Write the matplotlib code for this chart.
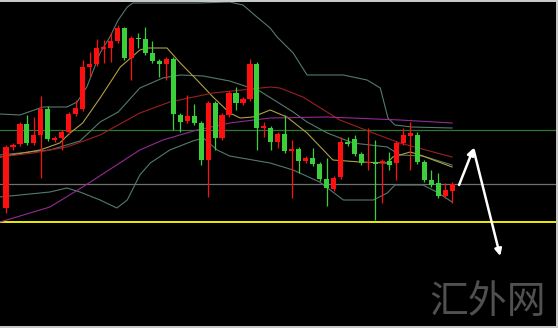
import matplotlib
matplotlib.use("Agg")
import matplotlib.pyplot as plt
import numpy as np

# ---- candle data (arbitrary price units) ----
opens  = [120,181,184,204,185,193,219,188,190,196,214,219,261,264,279,280,287,300,270,290,
          289,275,267,264,269,213,207,212,205,168,225,190,213,235,225,229,264,200,200,186,
          194,177,179,167,170,164,149,139,151,186,189,174,165,166,165,167,165,185,192,193,
          166,148,145,132,137]
closes = [181,183,204,185,193,219,189,190,196,214,220,261,264,280,281,287,300,270,290,289,
          275,267,264,269,214,206,212,205,168,225,190,213,235,225,229,264,200,202,186,194,
          177,179,167,170,164,149,140,150,186,184,174,165,166,164,167,163,185,193,195,166,
          148,143,132,138,144]
highs  = [183,185,206,213,211,232,222,192,198,216,228,268,276,289,288,295,303,301,292,295,
          301,287,269,271,271,215,233,224,207,227,227,215,237,241,231,269,266,206,202,196,
          213,188,181,172,180,166,170,152,191,191,193,176,200,188,169,176,187,200,206,196,
          168,158,155,145,146]
lows   = [115,178,182,183,183,150,187,186,178,194,212,217,251,262,265,266,285,268,248,280,
          273,265,251,248,198,196,205,203,163,131,178,188,211,218,223,227,178,191,178,180,
          175,130,155,165,162,147,122,137,149,182,172,163,158,108,125,158,148,183,158,164,
          146,141,130,130,125]

# ---- indicator lines: (bar position, value) ----
upper_x = [-0.86,2.0,5.3,8.75,10.2,11.6,13.5,14.9,16.1,17.4,18.2,27.4,32.1,34.0,36.0,37.9,38.9,41.2,43.2,48.4,51.8,53.7,54.8,55.8,58.2,64.0]
upper_y = [214,213,221,221,226,241,275,291,308,321,325,325,326,323,311,300,291,275,253,253,248,240,210,203,201,200]
mid_x = [-0.86,6.3,10.6,13.5,16.1,19.2,22.5,25.0,28.3,32.1,36.4,41.2,43.2,46.1,49.8,54.7,56.5,59.8,64.0]
mid_y = [173,178,187,206,216,240,250,253,252,247,237,216,206,195,185,181,173,172,163]
lower_x = [-0.86,2.0,6.3,8.75,10.6,13.5,15.9,17.4,19.2,20.7,23.5,26.8,28.3,30.3,32.1,37.9,41.2,45.0,48.4,52.7,54.7,55.8,59.8,61.8,64.0]
lower_y = [131,133,136,140,136,128,120,128,153,165,178,187,190,178,172,165,158,146,128,128,135,143,143,136,126]
ma_fast_x = [-0.86,4.9,7.7,9.2,11.0,13.5,16.4,19.2,20.2,23.1,25.0,27.4,29.7,32.1,33.6,35.4,37.9,40.3,43.2,46.9,50.8,54.7,55.5,58.0,59.4,64.0]
ma_fast_y = [171,178,185,195,205,230,261,278,280,280,265,248,231,215,210,211,218,211,195,168,166,165,171,176,173,161]
ma_mid_x = [-0.86,3.9,8.75,13.5,19.2,23.5,29.7,37.9,39.3,42.6,47.9,52.7,56.5,64.0]
ma_mid_y = [171,175,181,193,215,226,235,241,240,231,208,195,185,171]
ma_slow_x = [-0.86,6.3,11.0,19.2,22.5,27.4,32.1,37.9,46.1,56.5,64.0]
ma_slow_y = [106,121,141,178,188,198,205,210,211,208,205]

# horizontal levels
level_green = 198
level_grey = 144
level_yellow = 106

watermark = "汇外网"

# ---- figure ----
W, H = 558, 328
fig = plt.figure(figsize=(W/100, H/100), dpi=100, facecolor="#c8c8c8")
ax = fig.add_axes([0, 2/H, 556/W, 324/H])
ax.set_facecolor("black")
step = 6.97
ax.set_xlim(-6/step, (556-6)/step)
ax.set_ylim(2, 326)
ax.set_xticks([]); ax.set_yticks([])
for s in ax.spines.values():
    s.set_visible(False)

# horizontal lines
ax.axhline(level_green, color="#2a7a2a", lw=0.9, zorder=1)
ax.axhline(level_grey, color="#707070", lw=0.9, zorder=1)
ax.axhline(level_yellow, color="#ffff00", lw=1.3, zorder=1)

# indicator lines
band_c = "#557a6c"
ax.plot(upper_x, upper_y, color=band_c, lw=0.8, zorder=2)
ax.plot(mid_x, mid_y, color=band_c, lw=0.8, zorder=2)
ax.plot(lower_x, lower_y, color=band_c, lw=0.8, zorder=2)
ax.plot(ma_fast_x, ma_fast_y, color="#b0a040", lw=0.8, zorder=2)
ax.plot(ma_mid_x, ma_mid_y, color="#9c2020", lw=0.8, zorder=2)
ax.plot(ma_slow_x, ma_slow_y, color="#952a95", lw=0.8, zorder=2)

# candles
o = np.array(opens, float); c = np.array(closes, float)
h = np.array(highs, float); l = np.array(lows, float)
x = np.arange(len(o))
up = c >= o
cols = np.where(up, "#ff1010", "#3ccf3c")
ax.vlines(x, l, h, colors=cols, lw=0.9, zorder=3)
bottom = np.minimum(o, c)
height = np.maximum(np.abs(c - o), 1.5)
ax.bar(x, height, bottom=bottom, width=0.74, color=cols, edgecolor=cols, lw=0, zorder=4)

# arrows
ax.annotate("", xy=(67.1, 180), xytext=(65.0, 143),
            arrowprops=dict(arrowstyle="-|>", color="white", lw=1.8, mutation_scale=10,
                            shrinkA=0, shrinkB=0), zorder=5)
ax.annotate("", xy=(70.9, 72), xytext=(67.1, 178),
            arrowprops=dict(arrowstyle="-|>", color="white", lw=1.8, mutation_scale=10,
                            shrinkA=0, shrinkB=0), zorder=5)

fig.text(488/W, 1 - 302/H, watermark, color="#505050", fontsize=28,
         family=["Noto Sans CJK SC", "DejaVu Sans"], fontweight="light",
         ha="center", va="center")

fig.savefig("out.png", dpi=100, facecolor=fig.get_facecolor())
